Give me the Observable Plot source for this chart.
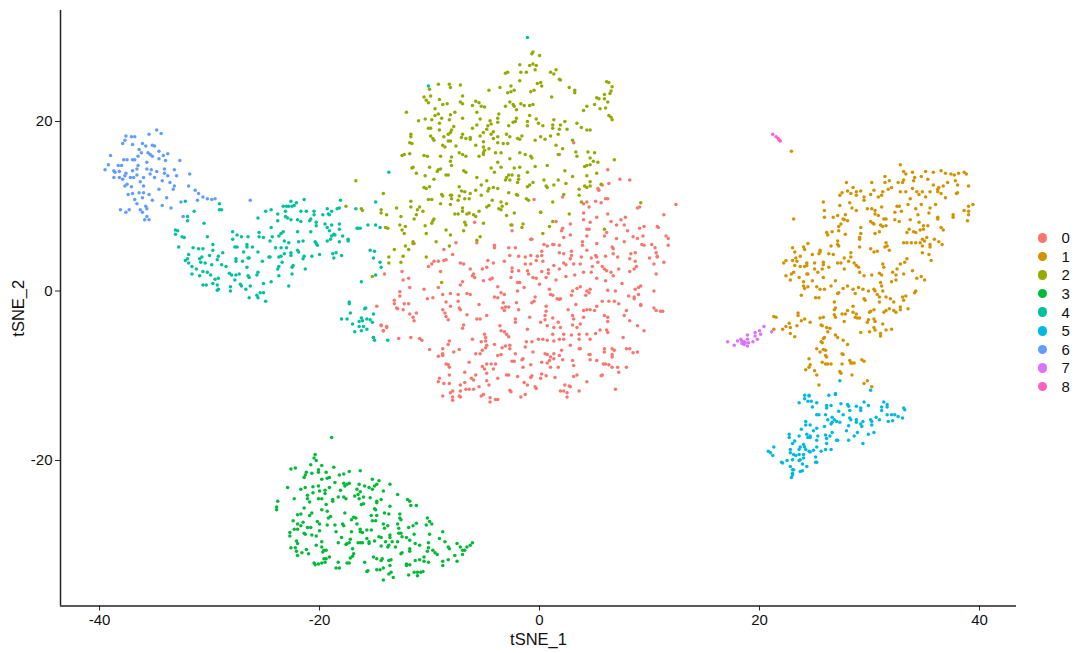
<!DOCTYPE html>
<html>
<head>
<meta charset="utf-8">
<script src="https://cdn.jsdelivr.net/npm/d3@7"></script>
<script src="https://cdn.jsdelivr.net/npm/@observablehq/plot@0.6"></script>
<style>
html,body{margin:0;padding:0;background:#fff;}
#wrap{position:relative;width:1080px;height:653px;overflow:hidden;font-family:"Liberation Sans",sans-serif;}
#legend{position:absolute;left:1036px;top:228.5px;}
.row{display:flex;align-items:center;height:18.6px;font-size:15px;color:#111;}
.sw{width:9.5px;height:9.5px;border-radius:50%;margin-right:14.5px;margin-left:1.5px;}
</style>
</head>
<body>
<div id="wrap"><div id="chart"></div><div id="legend"></div></div>
<script>
const clusterNames = ["0","1","2","3","4","5","6","7","8"];
const clusterColors = ["#F8766D","#D39200","#93AA00","#00BA38","#00C19F","#00B9E3","#619CFF","#DB72FB","#FF61C3"];
const xTicks = [-40,-20,0,20,40];
const yTicks = [-20,0,20];

const cluster0 = [[3.1,17.5],[1.8,16.1],[6.2,14.3],[7.3,13.2],[8.2,13.1],[6.3,12.7],[5.7,12.5],[5.3,12.1],[5.4,11.9],[12.4,10.2],[-0.5,10.8],[2.1,11.1],[4.0,10.3],[4.5,9.9],[5.1,10.6],[5.6,10.4],[6.0,10.9],[6.2,10.9],[4.3,10.5],[8.9,9.8],[9.1,9.9],[11.3,9.0],[0.1,9.3],[1.5,8.2],[-5.9,8.1],[6.2,9.1],[7.8,8.7],[4.0,9.2],[4.0,8.4],[5.2,8.7],[4.6,8.1],[6.5,8.2],[7.0,7.8],[7.4,8.4],[7.7,7.8],[9.5,7.6],[9.1,7.4],[10.7,7.6],[10.8,7.5],[2.8,7.9],[2.1,7.4],[2.0,7.1],[4.3,7.3],[4.5,7.3],[-2.5,7.1],[8.0,7.1],[-2.5,7.8],[11.5,6.5],[11.7,6.2],[8.5,6.4],[9.4,6.5],[-0.8,6.1],[-0.7,6.1],[2.2,6.3],[2.8,6.6],[4.3,6.5],[6.1,6.9],[5.9,6.5],[7.0,6.2],[8.9,6.2],[3.9,5.8],[3.9,5.4],[5.2,5.6],[7.7,5.8],[9.3,5.5],[9.5,5.4],[11.7,5.4],[10.2,5.5],[10.5,5.1],[10.6,4.5],[10.7,4.1],[0.4,5.5],[0.7,5.3],[1.2,5.5],[1.3,5.5],[1.8,5.4],[-4.1,5.4],[-4.1,5.1],[-2.8,5.1],[-2.2,5.1],[6.6,5.2],[6.7,5.0],[4.3,4.8],[8.3,4.4],[8.7,4.5],[6.7,4.4],[7.1,4.0],[-7.6,5.7],[-5.7,5.7],[-11.4,5.6],[-8.7,4.9],[-7.9,4.3],[-2.7,4.2],[-1.9,4.1],[-1.3,4.0],[-0.8,4.2],[-0.2,4.1],[0.2,4.2],[0.2,4.7],[1.8,4.5],[2.2,4.4],[2.9,4.7],[2.9,4.2],[2.8,3.8],[3.8,4.0],[4.7,3.9],[5.1,4.2],[5.2,4.0],[6.0,4.1],[10.0,3.9],[10.7,4.0],[-3.2,3.5],[-7.2,3.3],[-6.9,3.2],[-9.6,3.5],[-9.8,3.2],[-10.1,2.9],[-9.2,3.5],[-8.7,3.6],[-8.5,3.7],[-4.7,3.6],[-4.2,3.3],[-5.2,2.6],[-6.3,2.6],[-4.8,2.8],[-0.8,3.2],[-0.3,3.6],[0.3,3.5],[-1.3,3.2],[1.3,3.0],[2.2,3.3],[2.4,3.1],[1.8,2.6],[3.1,3.2],[3.7,3.2],[5.3,3.4],[4.8,2.9],[5.7,2.9],[8.2,3.8],[8.7,3.5],[11.3,3.4],[10.4,3.2],[8.8,2.9],[8.6,2.6],[-2.5,2.7],[-2.5,2.3],[-1.9,2.4],[-1.1,2.4],[-1.0,2.0],[0.2,2.3],[0.8,2.5],[0.8,2.1],[2.4,1.7],[3.2,1.9],[4.0,2.2],[4.7,2.2],[5.9,2.6],[6.1,2.4],[6.5,2.2],[8.2,2.3],[7.2,2.6],[-9.0,2.3],[-12.5,2.3],[-14.1,2.0],[-6.0,2.0],[-6.1,1.8],[-5.9,1.6],[-2.6,1.6],[-1.8,1.0],[-0.6,1.6],[-0.3,1.5],[0.6,1.6],[1.5,1.3],[5.2,1.5],[6.0,1.2],[6.7,1.8],[10.6,2.0],[-11.9,1.5],[-12.4,1.3],[-5.1,1.2],[-4.5,1.4],[-4.3,1.5],[-7.0,1.1],[-7.2,0.7],[-11.8,0.4],[-2.0,1.0],[0.0,0.8],[3.4,0.3],[3.7,0.5],[9.2,0.6],[9.0,0.4],[8.7,0.2],[7.5,0.9],[4.3,0.0],[4.6,0.2],[4.5,-0.2],[6.2,0.1],[6.9,0.0],[10.4,0.0],[-10.5,0.2],[-9.2,0.4],[-3.8,0.5],[-2.0,0.0],[-1.4,0.4],[0.9,0.2],[3.0,0.0],[4.2,-0.5],[-8.8,-0.4],[-8.1,-0.3],[-7.4,-0.4],[-6.6,-0.3],[-6.3,-0.4],[-3.5,-0.2],[-3.2,-0.4],[1.0,-0.4],[1.2,-0.5],[2.9,-0.5],[9.0,-0.4],[8.1,-0.6],[8.6,-0.7],[8.6,-0.9],[-12.7,-0.1],[-12.7,-0.6],[-10.2,-0.9],[-9.7,-0.8],[-7.4,-1.2],[-4.1,-0.7],[-3.8,-0.8],[-0.4,-0.7],[1.6,-0.9],[1.8,-1.0],[1.9,-0.9],[-13.2,-1.1],[-13.2,-1.5],[-12.3,-1.5],[-11.9,-1.5],[-8.5,-1.3],[-5.5,-1.6],[-3.3,-1.4],[-2.1,-1.4],[-0.5,-1.2],[-0.7,-1.4],[3.3,-1.6],[5.7,-1.2],[6.3,-1.2],[6.8,-1.2],[7.2,-1.5],[9.2,-1.7],[9.2,-1.6],[-13.0,-2.0],[-12.9,-2.1],[-12.4,-2.2],[-8.1,-1.8],[-7.3,-2.0],[-7.2,-2.2],[-3.4,-2.0],[-3.1,-1.9],[-2.8,-1.9],[-3.2,-2.3],[-1.9,-2.2],[0.6,-1.8],[2.6,-2.2],[4.0,-2.3],[4.3,-2.2],[4.6,-2.2],[5.2,-1.8],[5.0,-2.3],[7.9,-2.3],[10.4,-2.0],[10.6,-2.3],[11.0,-2.4],[11.2,-2.4],[-11.2,-2.6],[-11.8,-2.7],[-8.8,-2.2],[-8.6,-2.6],[-8.5,-3.0],[-8.3,-3.4],[-6.6,-2.8],[-4.8,-2.9],[-5.7,-3.3],[-5.4,-3.3],[-0.9,-3.1],[0.6,-2.4],[0.5,-2.9],[1.2,-3.2],[3.0,-2.9],[3.1,-3.3],[4.0,-3.1],[5.9,-2.9],[6.2,-3.1],[6.2,-3.6],[7.7,-2.9],[-11.5,-3.1],[-11.4,-3.5],[-2.2,-3.3],[-2.2,-3.7],[8.2,-3.5],[0.1,-3.7],[0.5,-3.4],[1.7,-3.7],[3.7,-3.9],[3.0,-4.0],[-14.4,-4.0],[-13.9,-4.2],[-14.2,-4.7],[-6.9,-4.0],[-7.0,-4.4],[-3.6,-4.1],[-1.1,-4.5],[0.7,-4.1],[1.3,-4.3],[1.9,-4.3],[3.4,-4.3],[5.5,-4.6],[6.1,-4.6],[8.9,-4.1],[9.5,-4.7],[-3.5,-4.7],[-3.2,-4.8],[-3.0,-5.1],[-2.8,-5.4],[-5.0,-5.1],[-4.9,-5.5],[-4.9,-5.9],[2.2,-5.1],[2.9,-5.2],[1.2,-5.1],[3.6,-5.1],[4.3,-5.1],[5.1,-5.0],[6.2,-4.9],[-12.8,-5.6],[-11.7,-5.5],[-10.9,-5.6],[-10.7,-5.8],[-8.2,-5.9],[-8.3,-6.3],[-6.1,-5.7],[-5.3,-6.0],[-1.2,-6.0],[-0.7,-6.0],[-0.1,-5.7],[0.3,-5.7],[0.7,-5.8],[1.3,-5.9],[1.8,-5.7],[2.2,-5.7],[3.6,-5.7],[4.6,-5.7],[7.6,-5.5],[-4.8,-6.4],[-4.9,-6.7],[-5.2,-7.0],[-5.4,-7.4],[-4.1,-6.3],[-3.1,-6.5],[-3.4,-6.7],[-2.7,-6.4],[-2.7,-6.8],[-1.3,-6.6],[2.0,-7.0],[2.8,-6.4],[3.6,-6.8],[3.7,-6.8],[5.9,-6.8],[5.9,-7.2],[6.6,-6.8],[6.8,-7.0],[7.9,-6.8],[8.2,-6.8],[8.5,-7.3],[8.9,-7.2],[-10.0,-6.9],[-8.8,-6.8],[-8.8,-7.4],[-7.3,-6.9],[-7.8,-7.2],[-9.2,-7.7],[-8.8,-7.6],[-5.8,-7.4],[-3.8,-7.6],[-3.5,-7.5],[-2.2,-7.4],[-0.6,-7.2],[0.5,-7.4],[0.7,-7.5],[1.3,-7.4],[1.0,-7.8],[0.9,-8.2],[1.8,-7.6],[4.5,-7.5],[4.6,-7.5],[6.6,-7.5],[6.6,-7.8],[4.6,-8.1],[5.2,-8.2],[3.0,-8.2],[2.1,-8.1],[-1.5,-8.0],[-1.6,-8.1],[-2.3,-8.3],[-2.5,-8.3],[0.2,-8.4],[0.7,-8.5],[1.3,-8.0],[-8.5,-8.6],[-8.3,-8.7],[-8.2,-9.0],[-6.4,-8.4],[-5.2,-8.9],[-4.8,-8.6],[-4.4,-8.6],[-4.0,-8.6],[-4.2,-9.2],[-5.0,-9.2],[3.1,-8.8],[5.8,-8.6],[6.0,-8.6],[6.3,-8.7],[6.6,-9.0],[7.1,-9.0],[7.9,-9.0],[-1.5,-9.0],[-0.8,-8.7],[1.0,-9.0],[1.7,-9.0],[-6.8,-9.6],[-8.2,-9.9],[-4.8,-9.7],[-3.8,-10.3],[-5.8,-9.9],[7.2,-9.6],[5.7,-9.9],[5.6,-10.0],[-3.0,-9.9],[-2.8,-9.9],[-2.0,-10.1],[-0.7,-10.0],[0.2,-9.8],[0.6,-10.0],[1.4,-10.2],[3.4,-9.9],[3.1,-10.1],[-9.1,-10.3],[-9.2,-10.7],[-8.7,-10.9],[-8.2,-10.9],[-6.8,-10.8],[-7.2,-11.1],[-6.2,-10.3],[-6.0,-10.5],[-4.8,-10.6],[-4.6,-11.1],[-0.8,-10.2],[-1.4,-10.8],[-1.1,-11.1],[0.1,-10.3],[4.3,-10.7],[-8.1,-12.0],[-7.9,-11.8],[-7.2,-11.8],[-6.7,-11.6],[-6.4,-11.6],[-6.0,-11.6],[-5.5,-11.3],[-0.4,-11.3],[-0.3,-11.5],[2.3,-11.1],[2.7,-11.2],[2.8,-11.3],[6.9,-11.6],[-8.8,-12.4],[-7.9,-12.5],[-7.9,-12.9],[-7.3,-12.4],[-7.2,-12.5],[-5.1,-12.2],[-5.3,-12.4],[-4.5,-12.6],[-4.0,-12.8],[-3.8,-12.8],[-4.5,-13.1],[-1.7,-12.5],[-1.3,-12.2],[-2.7,-11.7],[-2.6,-11.9],[1.9,-11.8],[2.2,-11.8],[2.5,-12.0],[2.5,-12.5],[3.6,-11.8],[-14.8,-1.8],[-14.4,-4.1],[-13.9,-4.3],[-14.2,-4.7],[-15.1,-5.5]];

const cluster1 = [[22.9,16.5],[23.1,8.5],[32.8,14.9],[33.1,14.1],[33.3,13.8],[33.9,14.0],[35.1,14.1],[35.8,14.0],[36.5,14.2],[36.9,13.9],[37.4,13.8],[37.7,13.7],[38.1,13.9],[38.6,14.0],[38.8,13.8],[34.1,13.4],[34.0,13.0],[34.7,13.5],[35.3,13.2],[33.1,13.1],[33.0,12.8],[32.6,12.8],[31.4,13.5],[31.8,13.0],[31.4,12.8],[30.2,12.8],[27.9,12.8],[35.8,12.5],[36.3,12.2],[36.7,12.4],[37.1,12.8],[37.8,13.0],[38.0,12.5],[39.0,12.4],[33.9,12.1],[32.0,12.2],[31.7,12.0],[28.5,12.2],[28.0,11.8],[27.5,11.6],[27.3,11.3],[28.3,11.5],[28.8,11.7],[28.8,11.3],[29.2,11.8],[30.4,11.9],[30.1,11.4],[29.5,11.1],[29.5,10.7],[31.2,11.7],[31.1,11.3],[30.8,11.1],[32.8,11.7],[33.3,11.7],[34.3,11.7],[34.5,11.4],[34.8,11.7],[33.7,10.9],[35.1,11.1],[35.5,11.7],[36.2,11.7],[36.2,12.0],[36.5,11.5],[36.9,11.0],[37.9,11.5],[38.0,11.6],[25.8,10.5],[25.9,9.5],[27.3,10.1],[28.2,10.4],[28.4,9.8],[28.8,9.5],[29.8,9.7],[30.2,9.7],[30.5,9.5],[30.5,9.1],[31.1,9.9],[32.5,10.0],[32.7,10.0],[32.9,9.4],[33.5,10.2],[34.2,9.7],[34.7,10.2],[35.5,9.8],[35.4,9.2],[36.0,10.2],[39.0,10.0],[39.4,10.2],[38.6,9.5],[39.0,9.4],[39.0,9.0],[37.6,9.0],[37.6,8.7],[38.9,8.3],[25.9,8.7],[26.7,8.7],[27.1,8.9],[27.8,9.0],[27.6,8.5],[27.7,8.4],[28.0,8.3],[30.8,8.9],[31.3,8.5],[31.5,8.5],[32.3,9.3],[32.3,8.4],[32.7,8.2],[33.7,8.4],[34.4,9.0],[36.2,8.7],[36.2,8.5],[27.4,7.9],[27.2,7.6],[26.1,6.9],[26.2,6.6],[26.6,7.0],[27.2,7.1],[27.8,6.7],[29.2,7.5],[29.2,6.8],[29.1,6.3],[29.1,6.1],[30.1,8.2],[30.3,8.0],[30.4,7.9],[31.0,7.8],[31.2,7.6],[31.5,7.7],[30.5,6.8],[30.9,7.0],[33.4,6.9],[33.6,7.3],[34.0,7.0],[34.2,6.9],[34.6,7.2],[34.9,7.3],[35.3,7.7],[34.5,8.1],[34.9,7.7],[36.5,7.5],[36.7,7.2],[26.5,5.3],[27.1,5.9],[27.1,5.5],[27.2,5.3],[24.4,5.6],[24.0,5.2],[24.1,4.9],[23.0,5.1],[23.2,4.6],[23.7,4.1],[23.3,3.9],[25.5,4.8],[25.5,4.6],[25.4,4.4],[24.8,4.3],[33.1,5.7],[33.4,5.7],[33.8,5.7],[34.2,5.7],[34.6,5.7],[34.8,6.1],[35.2,6.3],[34.8,5.3],[35.0,5.9],[35.5,5.5],[35.5,5.2],[35.9,6.1],[36.3,5.8],[36.6,5.5],[34.8,4.5],[35.4,4.3],[35.6,3.6],[29.1,5.2],[30.1,5.0],[30.4,4.6],[30.7,4.7],[31.5,5.7],[31.6,5.3],[31.4,5.2],[31.8,4.8],[26.3,4.4],[26.7,4.3],[27.7,3.9],[28.3,4.5],[28.3,4.0],[22.2,3.3],[22.4,3.6],[23.0,3.6],[23.4,3.5],[23.2,3.0],[23.7,2.9],[24.3,3.3],[24.3,3.0],[24.1,2.9],[25.0,3.3],[25.8,3.4],[25.8,3.1],[25.0,2.6],[25.7,2.6],[26.3,2.8],[27.1,3.3],[27.4,3.3],[28.1,3.5],[28.6,3.3],[28.8,3.0],[29.0,2.8],[27.7,2.6],[31.2,3.2],[31.3,2.8],[32.8,3.2],[33.2,3.4],[33.4,3.8],[22.4,1.8],[22.9,2.0],[23.1,2.2],[22.8,1.3],[23.6,1.6],[24.3,2.0],[24.4,2.0],[25.3,2.2],[25.8,1.6],[24.0,1.1],[24.8,1.2],[26.5,0.6],[26.9,1.2],[24.0,0.6],[24.1,0.3],[24.4,0.5],[25.2,0.5],[25.5,0.2],[25.9,0.2],[29.1,2.2],[29.5,1.8],[30.2,1.9],[30.9,2.1],[31.1,1.9],[31.0,1.0],[32.5,2.6],[32.1,2.2],[32.4,1.9],[32.4,1.3],[32.0,1.1],[33.1,2.0],[33.9,2.4],[34.3,1.5],[34.7,1.7],[35.0,1.3],[23.8,-0.5],[25.1,-0.8],[25.4,-0.8],[27.1,-0.3],[27.2,-0.2],[27.6,0.3],[28.0,0.6],[28.5,0.2],[28.7,-0.3],[29.0,0.4],[29.4,0.2],[29.5,-0.9],[29.6,-1.1],[29.9,0.0],[30.4,0.2],[30.5,0.0],[30.7,-0.4],[31.1,0.6],[31.2,0.0],[30.9,-0.7],[30.9,-1.3],[31.5,-0.7],[31.9,-0.9],[32.2,-1.3],[33.0,-0.7],[33.3,-0.6],[33.1,-1.1],[34.2,0.0],[34.1,-0.2],[26.8,-1.3],[26.9,-2.0],[26.8,-2.2],[28.0,-2.3],[28.5,-1.8],[28.5,-2.5],[28.8,-2.7],[32.8,-1.9],[32.8,-2.2],[33.5,-2.1],[31.8,-2.1],[31.5,-2.3],[31.3,-2.5],[32.2,-2.3],[32.4,-2.5],[30.4,-2.2],[30.1,-2.4],[30.0,-2.5],[23.5,-2.6],[23.5,-2.9],[21.3,-3.0],[21.5,-3.1],[23.8,-3.5],[24.1,-3.3],[24.6,-3.7],[23.4,-4.1],[22.7,-3.8],[22.8,-4.3],[22.1,-4.5],[22.4,-4.2],[21.3,-4.5],[25.5,-3.2],[25.8,-3.1],[25.6,-4.0],[25.7,-4.1],[26.8,-2.8],[26.9,-3.1],[27.7,-3.6],[27.5,-2.7],[27.8,-2.7],[28.7,-3.1],[28.9,-3.2],[29.1,-3.2],[29.9,-3.4],[29.8,-3.7],[30.4,-3.3],[30.5,-3.6],[31.2,-3.9],[31.5,-4.6],[32.0,-4.5],[30.4,-4.3],[30.5,-4.6],[30.0,-4.8],[29.2,-4.9],[31.0,-5.0],[31.0,-5.3],[22.8,-5.0],[23.2,-5.4],[26.1,-4.3],[26.4,-4.4],[26.2,-4.8],[26.9,-5.2],[27.1,-5.5],[25.9,-5.5],[25.8,-5.6],[25.6,-6.0],[25.7,-6.1],[27.6,-5.8],[28.0,-6.3],[25.2,-6.8],[25.5,-7.2],[25.8,-6.9],[26.0,-7.0],[26.0,-7.6],[26.1,-7.8],[27.5,-7.4],[27.6,-7.5],[24.5,-8.0],[28.2,-8.2],[28.3,-8.5],[28.4,-8.5],[28.6,-8.5],[29.3,-8.1],[29.5,-8.3],[27.5,-8.6],[25.7,-8.4],[26.0,-8.6],[26.2,-8.6],[26.5,-8.6],[24.6,-8.7],[24.5,-9.0],[24.2,-9.3],[25.0,-9.4],[25.2,-9.9],[27.3,-9.5],[27.4,-9.7],[28.4,-9.9],[25.4,-11.1],[29.5,-10.9],[29.8,-10.6],[30.2,-11.3]];

const cluster2 = [[-0.6,28.2],[-0.7,28.0],[0.0,27.8],[-1.8,26.7],[-0.9,26.6],[-0.6,26.8],[-0.3,26.6],[-0.4,26.1],[-3.1,25.7],[-2.9,25.8],[-1.7,25.8],[-1.2,25.8],[1.0,25.8],[1.3,25.6],[1.5,26.1],[1.8,25.0],[1.9,24.9],[0.1,24.6],[0.2,24.2],[-0.2,24.5],[-1.8,24.8],[-3.6,24.0],[-4.6,23.7],[-2.6,24.2],[-2.9,23.4],[-2.6,23.5],[-2.3,23.7],[-0.5,23.7],[-0.8,23.5],[1.1,22.9],[2.7,24.0],[3.2,23.7],[3.2,23.4],[6.1,24.7],[6.3,24.6],[6.6,24.1],[6.5,23.6],[6.4,23.3],[5.9,23.2],[5.2,22.8],[5.4,22.7],[5.9,22.7],[6.2,22.3],[5.0,22.0],[4.3,21.8],[4.0,21.3],[5.5,21.5],[6.0,21.6],[6.3,20.7],[6.5,20.5],[6.6,20.2],[-10.0,23.8],[-9.2,24.4],[-8.2,24.4],[-8.1,24.0],[-7.2,24.3],[-10.5,22.9],[-9.9,23.0],[-10.3,22.5],[-10.1,22.2],[-9.1,22.6],[-8.8,22.0],[-8.4,22.1],[-7.0,23.0],[-7.2,22.3],[-7.0,22.1],[-6.1,21.9],[-5.8,22.4],[-5.5,22.2],[-5.3,21.8],[-5.0,21.7],[-5.7,21.1],[-12.1,21.1],[-9.5,21.5],[-9.5,20.7],[-9.2,20.9],[-8.9,20.4],[-8.1,20.8],[-7.7,21.1],[-7.0,20.4],[-8.2,20.2],[-11.0,20.1],[-10.4,20.3],[-9.8,20.2],[-9.1,19.8],[-5.4,20.3],[-5.7,19.6],[-6.1,19.2],[-4.5,20.1],[-4.4,19.7],[-3.8,20.4],[-3.7,20.9],[-3.8,19.9],[-2.7,22.3],[-2.4,22.0],[-2.3,21.8],[-2.1,21.4],[-1.7,22.1],[-1.4,21.9],[-0.9,21.9],[-0.6,22.0],[-3.1,21.8],[-0.9,20.7],[-0.3,20.3],[-0.1,19.8],[0.3,19.5],[1.3,20.2],[1.2,19.6],[1.2,19.2],[-1.1,20.0],[-1.1,19.5],[-2.1,20.4],[-2.2,20.0],[-2.4,19.9],[-2.8,19.5],[2.3,20.0],[1.9,19.6],[1.8,19.1],[2.5,19.1],[3.4,19.8],[3.8,19.3],[4.3,19.0],[4.6,19.0],[-10.1,19.2],[-9.9,19.2],[-9.1,19.0],[-7.8,19.4],[-8.0,19.0],[-8.1,18.7],[-11.7,18.5],[-11.7,18.2],[-11.8,17.5],[-11.6,17.4],[-9.9,18.3],[-9.7,18.0],[-9.6,17.8],[-8.7,18.2],[-8.3,18.5],[-8.3,17.7],[-8.1,17.7],[-8.8,17.2],[-8.6,17.0],[-7.0,18.5],[-7.1,18.1],[-6.7,18.0],[-6.3,18.1],[-6.3,17.9],[-4.7,19.5],[-4.8,19.1],[-5.4,18.3],[-5.1,18.7],[-4.4,18.5],[-4.2,18.8],[-4.2,18.0],[-3.8,18.2],[-5.1,17.6],[-5.8,17.2],[-5.1,17.0],[-5.0,16.6],[-4.6,16.8],[-5.1,16.3],[-5.5,15.9],[-5.1,16.1],[-3.8,17.5],[-3.3,17.4],[-2.9,17.4],[-3.0,18.5],[-2.7,18.2],[-2.0,18.0],[-1.8,17.9],[-1.6,18.3],[-0.4,17.8],[0.1,18.2],[0.5,17.9],[1.0,18.3],[1.7,18.5],[1.5,17.2],[2.1,16.8],[3.0,17.8],[-12.5,16.0],[-12.3,16.1],[-11.8,16.2],[-10.5,16.0],[-10.2,15.9],[-9.0,15.9],[-7.6,17.1],[-7.3,16.3],[-7.0,16.1],[-6.7,15.9],[-8.0,15.8],[-8.1,15.3],[-8.0,14.8],[-4.0,16.3],[-3.5,16.3],[-3.8,15.2],[-2.7,15.6],[-1.8,16.3],[-1.3,16.1],[-0.8,15.9],[-0.7,15.7],[1.7,16.1],[3.3,16.4],[3.4,15.9],[4.4,16.4],[5.0,16.3],[4.6,15.7],[4.9,15.3],[6.8,15.5],[0.7,14.8],[-0.4,14.7],[-3.5,14.6],[-4.4,14.5],[-4.1,14.0],[-2.3,14.5],[-1.8,14.6],[-11.6,14.5],[-11.5,14.6],[-10.0,14.6],[-9.2,14.3],[-9.0,14.4],[-9.3,14.1],[-11.2,13.9],[-10.4,13.6],[-8.5,13.7],[-8.3,13.7],[-6.9,14.2],[-6.7,14.0],[-5.7,13.4],[-4.8,13.0],[-5.3,12.5],[-2.8,13.7],[-2.5,13.7],[-3.0,13.4],[-3.1,13.1],[-2.7,13.1],[-1.9,13.6],[-1.9,13.2],[-2.0,12.8],[-1.1,14.0],[-0.6,12.8],[-0.9,12.5],[-1.1,12.3],[0.4,13.1],[0.6,12.4],[0.7,12.2],[1.7,13.1],[1.3,12.5],[2.3,14.2],[2.4,12.7],[3.0,13.5],[4.3,13.6],[4.1,14.7],[4.3,14.8],[4.6,14.9],[5.3,15.2],[5.2,13.9],[4.1,12.4],[4.6,12.9],[4.3,12.2],[4.6,12.4],[5.6,12.6],[3.6,12.0],[3.6,11.3],[-10.5,12.2],[-10.3,12.1],[-10.0,12.3],[-9.6,13.2],[-7.3,12.3],[-7.1,11.8],[-6.8,11.7],[-8.1,11.3],[-5.8,11.9],[-5.3,11.3],[-4.7,11.8],[-4.6,12.1],[-4.2,12.2],[-3.8,12.1],[-2.8,11.6],[-2.1,11.4],[-2.0,11.3],[2.2,11.4],[-1.2,10.9],[-1.0,10.7],[1.2,10.5],[3.8,10.5],[-14.2,11.5],[-10.1,10.8],[-9.8,10.8],[-8.9,11.4],[-8.8,11.2],[-9.0,10.3],[-8.0,11.3],[-8.0,10.9],[-7.3,11.2],[-7.4,10.7],[-6.8,10.9],[-6.3,11.5],[-6.4,10.9],[-7.0,9.8],[-7.0,9.4],[-8.1,10.2],[-11.7,10.6],[-11.7,9.9],[-10.9,9.9],[-11.1,9.6],[-10.6,9.4],[-11.2,9.0],[-13.0,9.8],[-14.4,9.6],[-14.4,9.2],[-13.9,9.0],[-12.6,8.8],[-11.4,8.5],[-4.3,10.7],[-4.6,10.1],[-4.8,9.9],[-3.5,10.5],[-3.4,10.0],[-3.0,10.3],[-3.7,9.7],[-3.5,9.6],[-7.7,9.1],[-7.4,9.1],[-6.6,9.1],[-6.4,9.2],[-6.0,9.0],[-5.8,8.8],[-5.5,9.4],[-3.0,8.9],[-2.3,9.2],[0.1,9.3],[2.7,9.1],[-9.6,8.5],[-9.7,8.3],[-9.8,8.0],[-6.8,8.1],[-6.7,7.8],[-5.1,8.0],[-12.7,7.8],[-14.0,7.5],[-13.8,7.4],[-12.2,7.6],[-12.5,7.2],[-12.3,6.8],[-10.4,7.7],[-10.3,6.8],[-8.5,7.2],[-8.1,6.6],[-6.9,7.1],[-2.6,7.8],[-1.5,7.9],[-1.6,7.5],[1.2,8.2],[0.9,7.6],[0.3,6.8],[-5.4,6.4],[-5.7,6.0],[-11.5,5.8],[-11.5,5.6],[-9.4,5.8],[-12.2,5.3],[-8.2,5.3],[-13.2,4.9],[-11.9,4.9],[-13.7,4.0],[-13.7,3.3],[-12.6,3.4],[-12.4,4.1],[-10.3,4.0],[-8.9,1.0],[-15.2,1.7],[9.2,10.4],[5.9,7.3],[-16.7,13.0],[-17.6,10.0],[-16.2,9.7],[-16.1,9.5]];

const cluster3 = [[-18.9,-17.3],[-20.4,-19.3],[-20.5,-19.7],[-20.3,-20.0],[-22.6,-21.0],[-22.2,-20.9],[-20.8,-20.5],[-19.8,-20.6],[-18.7,-20.8],[-20.1,-21.1],[-20.1,-21.4],[-19.4,-21.4],[-16.3,-21.2],[-17.3,-21.3],[-17.8,-21.6],[-18.2,-21.7],[-21.2,-21.4],[-21.3,-21.7],[-21.4,-22.0],[-20.7,-21.5],[-19.8,-22.2],[-19.3,-22.1],[-19.1,-22.0],[-18.6,-22.6],[-15.2,-22.2],[-14.6,-22.4],[-14.8,-22.8],[-15.0,-23.0],[-13.6,-22.8],[-16.4,-22.8],[-15.9,-23.0],[-17.8,-22.7],[-17.5,-22.8],[-17.3,-22.7],[-17.7,-23.0],[-22.9,-23.2],[-21.7,-23.4],[-21.3,-23.2],[-20.6,-23.1],[-20.1,-23.0],[-19.1,-23.2],[-15.5,-23.2],[-15.2,-23.4],[-14.2,-23.6],[-16.6,-23.4],[-16.3,-23.7],[-16.5,-24.0],[-18.1,-23.5],[-20.0,-23.6],[-19.5,-23.5],[-19.5,-23.9],[-20.6,-23.8],[-21.1,-24.1],[-21.1,-24.5],[-22.3,-24.5],[-20.1,-24.5],[-19.8,-24.5],[-18.8,-24.6],[-18.8,-24.8],[-18.3,-24.3],[-17.8,-24.3],[-17.6,-24.5],[-16.8,-24.2],[-16.0,-24.3],[-16.4,-24.5],[-15.4,-24.4],[-12.9,-24.0],[-20.9,-24.9],[-23.8,-24.8],[-23.9,-25.5],[-23.9,-25.8],[-12.0,-24.6],[-11.8,-24.8],[-11.7,-25.3],[-11.2,-25.3],[-14.8,-24.8],[-14.8,-25.0],[-14.4,-24.6],[-16.2,-25.2],[-16.0,-25.1],[-13.6,-25.4],[-19.4,-25.2],[-21.4,-25.6],[-19.8,-25.8],[-19.3,-26.0],[-19.0,-26.6],[-19.2,-26.8],[-20.7,-26.2],[-20.9,-26.5],[-21.7,-26.3],[-22.0,-26.4],[-17.7,-26.2],[-15.0,-25.7],[-14.9,-25.8],[-14.1,-26.2],[-13.7,-26.3],[-12.7,-26.3],[-12.7,-26.8],[-12.6,-27.0],[-22.4,-27.1],[-22.0,-27.5],[-21.5,-27.3],[-21.7,-27.7],[-20.2,-27.2],[-20.0,-27.5],[-19.3,-27.6],[-17.1,-27.0],[-16.9,-26.7],[-16.7,-26.8],[-15.3,-26.5],[-14.8,-26.5],[-15.2,-27.1],[-14.9,-27.1],[-17.9,-27.5],[-17.8,-27.7],[-22.3,-28.1],[-22.0,-28.1],[-21.1,-27.9],[-20.8,-27.9],[-20.0,-28.3],[-18.6,-27.6],[-16.6,-27.5],[-14.2,-27.5],[-13.8,-27.7],[-12.9,-27.5],[-12.8,-28.0],[-11.2,-27.4],[-11.9,-27.9],[-11.5,-27.7],[-10.2,-26.8],[-10.0,-27.2],[-9.8,-27.5],[-10.3,-27.6],[-22.7,-28.5],[-22.7,-28.9],[-21.4,-28.6],[-21.3,-28.7],[-20.7,-28.8],[-20.3,-28.9],[-18.5,-28.4],[-16.3,-28.1],[-16.1,-28.5],[-16.3,-28.4],[-15.7,-28.2],[-15.3,-28.2],[-17.1,-28.4],[-18.0,-29.1],[-18.3,-29.7],[-14.1,-28.0],[-22.1,-29.5],[-22.0,-29.8],[-19.8,-29.6],[-20.3,-30.0],[-17.5,-29.8],[-17.3,-29.7],[-17.2,-29.3],[-16.5,-29.7],[-16.3,-29.7],[-15.7,-29.2],[-15.5,-29.6],[-15.0,-29.5],[-14.6,-29.0],[-14.4,-29.1],[-13.6,-28.8],[-13.6,-29.1],[-12.8,-28.6],[-12.6,-28.6],[-12.5,-29.0],[-12.1,-29.1],[-11.8,-29.4],[-11.4,-28.7],[-10.0,-28.7],[-10.1,-29.7],[-8.8,-28.4],[-9.1,-29.2],[-22.6,-30.3],[-22.2,-30.3],[-22.1,-30.7],[-22.0,-31.2],[-21.6,-30.9],[-21.2,-30.5],[-21.0,-31.0],[-19.8,-30.2],[-19.6,-30.6],[-19.4,-30.6],[-19.7,-30.8],[-17.6,-29.9],[-17.0,-30.4],[-16.1,-29.7],[-15.5,-29.8],[-14.4,-30.1],[-14.0,-29.6],[-13.8,-30.2],[-13.7,-30.0],[-13.4,-29.6],[-12.9,-29.6],[-13.1,-30.2],[-11.8,-30.4],[-11.3,-29.8],[-10.9,-30.0],[-10.1,-30.3],[-10.2,-30.7],[-9.7,-30.6],[-9.5,-30.9],[-9.3,-31.1],[-8.6,-29.6],[-8.3,-30.2],[-8.2,-30.4],[-7.5,-29.8],[-7.2,-30.2],[-7.0,-30.6],[-6.8,-30.6],[-6.6,-30.2],[-6.3,-30.0],[-6.1,-29.7],[-16.9,-31.0],[-17.0,-31.3],[-17.2,-31.5],[-12.6,-31.0],[-12.5,-30.9],[-11.8,-30.7],[-7.7,-31.2],[-7.0,-31.1],[-7.5,-31.9],[-8.3,-31.7],[-8.8,-31.9],[-8.8,-32.4],[-11.3,-31.8],[-10.9,-31.7],[-10.5,-31.9],[-10.5,-31.4],[-10.1,-32.0],[-15.1,-31.4],[-14.8,-31.6],[-14.3,-31.6],[-14.4,-31.8],[-15.9,-32.0],[-13.7,-31.8],[-13.5,-31.7],[-20.5,-32.1],[-20.4,-32.3],[-20.1,-32.2],[-19.8,-32.1],[-19.6,-31.6],[-19.4,-31.6],[-19.1,-31.4],[-19.5,-32.0],[-18.3,-32.0],[-17.5,-32.1],[-17.3,-32.1],[-18.5,-32.7],[-18.2,-32.7],[-12.1,-32.2],[-11.8,-32.3],[-12.1,-32.4],[-13.6,-32.4],[-14.2,-32.7],[-14.5,-32.9],[-14.8,-32.9],[-15.6,-33.0],[-15.7,-33.1],[-13.5,-33.2],[-13.7,-33.4],[-13.3,-33.8],[-14.2,-34.1],[-11.9,-33.5],[-11.4,-33.2],[-11.1,-33.2],[-11.1,-33.6],[-10.8,-33.2],[-10.6,-33.1]];

const cluster4 = [[-32.2,10.6],[-31.4,9.4],[-32.0,8.8],[-32.0,8.3],[-30.5,8.0],[-29.1,10.3],[-29.1,9.6],[-28.9,9.6],[-33.1,7.2],[-32.9,7.1],[-33.1,6.7],[-32.5,6.4],[-32.3,6.3],[-30.2,6.4],[-32.8,5.2],[-31.5,5.1],[-31.0,5.0],[-30.6,5.0],[-29.7,5.5],[-29.7,4.8],[-31.9,4.3],[-32.0,3.8],[-32.2,3.6],[-31.9,3.3],[-31.6,2.9],[-31.2,2.6],[-30.9,3.8],[-30.7,4.0],[-30.8,3.4],[-30.4,3.3],[-30.0,4.2],[-29.3,3.7],[-29.2,4.1],[-28.8,4.5],[-29.8,3.1],[-31.6,2.0],[-30.9,1.8],[-30.6,2.3],[-30.2,2.2],[-29.9,1.9],[-29.5,1.4],[-29.2,1.5],[-30.6,0.7],[-30.3,0.7],[-29.7,0.9],[-29.3,0.7],[-29.2,0.2],[-29.3,0.1],[-28.9,3.1],[-28.5,2.9],[-28.2,2.1],[-28.0,1.9],[-28.1,0.5],[-28.1,0.0],[-27.7,1.3],[-27.3,2.0],[-27.6,1.9],[-27.6,3.8],[-27.6,3.5],[-27.0,3.5],[-26.5,3.9],[-26.6,2.8],[-26.4,3.9],[-26.5,1.8],[-26.4,1.6],[-27.2,0.8],[-27.1,0.6],[-26.7,0.2],[-26.3,0.6],[-26.4,-0.8],[-25.7,-0.5],[-25.6,-0.8],[-25.4,-0.2],[-25.1,-0.2],[-24.9,-1.2],[-25.1,0.9],[-24.4,1.1],[-25.7,1.9],[-25.6,2.2],[-27.9,7.0],[-27.9,6.1],[-27.5,6.6],[-27.1,6.4],[-26.5,6.4],[-27.7,5.2],[-27.5,5.2],[-26.6,5.5],[-26.6,5.2],[-26.1,5.2],[-25.6,4.6],[-26.9,4.6],[-25.2,3.5],[-24.6,4.0],[-24.5,4.0],[-23.7,4.0],[-23.5,4.1],[-23.2,4.4],[-23.4,3.4],[-23.7,2.9],[-23.8,2.6],[-23.7,1.8],[-22.5,2.8],[-22.4,3.0],[-22.5,2.0],[-22.8,0.6],[-21.3,2.6],[-22.6,4.5],[-22.6,4.2],[-22.0,4.8],[-21.9,4.6],[-21.4,4.1],[-21.5,3.8],[-20.7,4.1],[-20.0,4.3],[-25.6,8.6],[-24.9,9.4],[-24.4,9.6],[-24.4,7.5],[-25.5,6.9],[-25.5,6.4],[-25.1,6.3],[-24.3,6.4],[-24.5,5.9],[-23.7,6.5],[-23.5,6.8],[-23.3,7.0],[-23.2,5.9],[-22.8,5.7],[-24.0,5.1],[-23.5,5.1],[-23.0,5.1],[-21.9,5.8],[-21.5,5.9],[-22.0,7.0],[-20.8,7.0],[-20.4,5.8],[-20.3,5.6],[-20.2,5.4],[-23.3,10.0],[-23.0,10.0],[-22.8,10.0],[-22.6,10.6],[-22.5,10.0],[-22.3,10.1],[-22.1,10.4],[-21.4,10.8],[-23.1,9.4],[-23.8,9.1],[-21.7,9.4],[-21.2,9.4],[-20.5,9.4],[-20.5,9.0],[-23.1,8.8],[-22.9,8.6],[-22.6,8.4],[-22.0,8.4],[-21.7,8.2],[-20.9,8.3],[-20.8,8.5],[-20.3,8.1],[-20.3,7.7],[-23.8,8.3],[-19.7,9.0],[-19.3,9.7],[-18.9,9.4],[-19.2,9.1],[-19.1,9.0],[-18.2,9.8],[-18.1,10.7],[-18.4,9.7],[-19.5,7.9],[-19.3,7.5],[-19.1,7.1],[-18.9,7.8],[-18.2,7.9],[-18.2,7.3],[-18.9,6.5],[-18.7,6.7],[-18.6,6.6],[-19.0,6.1],[-19.3,5.9],[-18.2,5.8],[-17.9,6.5],[-17.4,6.1],[-17.4,5.9],[-18.8,4.4],[-18.5,4.5],[-18.7,3.9],[-18.0,4.2],[-16.6,7.4],[-16.5,7.4],[-16.3,7.4],[-15.6,7.8],[-14.9,7.8],[-14.5,7.5],[-14.9,10.5],[-16.7,9.7],[-15.4,4.8],[-15.0,4.7],[-15.1,3.9],[-14.5,3.4],[-14.4,2.8],[-14.9,1.9],[-16.2,1.1],[-13.7,14.0],[-17.3,-1.3],[-17.3,-1.5],[-15.9,-2.1],[-15.8,-2.0],[-17.2,-2.6],[-15.1,-2.7],[-18.0,-3.3],[-17.5,-3.3],[-17.0,-3.9],[-16.4,-3.6],[-16.2,-3.2],[-16.1,-3.5],[-15.7,-3.3],[-15.4,-3.4],[-15.2,-3.7],[-16.4,-4.2],[-16.0,-4.2],[-15.7,-4.5],[-16.8,-4.8],[-16.2,-4.7],[-15.1,-5.5],[-15.0,-5.8],[-13.8,-5.8],[-10.1,24.2],[-1.1,29.9]];

const cluster5 = [[24.1,-12.3],[24.5,-12.3],[24.1,-12.7],[24.5,-12.4],[23.6,-13.2],[24.4,-13.0],[24.7,-13.0],[25.2,-13.2],[24.8,-13.7],[26.3,-12.3],[26.9,-12.2],[26.9,-12.1],[26.1,-13.5],[26.5,-13.5],[26.1,-13.8],[27.4,-13.3],[28.0,-13.4],[28.1,-13.6],[28.2,-14.1],[27.2,-14.2],[27.6,-14.6],[28.8,-13.6],[29.2,-13.8],[29.2,-14.1],[29.5,-13.1],[29.9,-13.5],[31.1,-13.7],[31.1,-14.1],[31.3,-13.1],[31.6,-13.4],[31.6,-13.7],[33.1,-13.8],[33.2,-14.0],[25.2,-14.6],[25.4,-14.6],[26.0,-14.6],[26.6,-14.9],[26.2,-15.2],[26.6,-15.5],[26.5,-15.7],[26.8,-15.2],[27.0,-15.4],[27.3,-15.5],[28.2,-15.0],[28.3,-15.2],[28.8,-15.2],[28.8,-15.5],[29.4,-15.4],[29.2,-15.7],[29.3,-16.0],[30.1,-15.2],[30.2,-15.4],[30.6,-14.9],[30.9,-15.2],[30.2,-15.8],[31.6,-14.6],[32.0,-14.6],[32.3,-14.6],[32.6,-14.8],[33.0,-15.0],[31.7,-15.4],[32.1,-15.3],[24.2,-15.4],[24.2,-15.8],[24.6,-15.8],[23.8,-16.3],[25.2,-16.2],[24.9,-16.5],[22.7,-16.9],[22.7,-17.3],[23.6,-17.1],[24.3,-16.9],[24.6,-17.1],[24.4,-17.3],[24.6,-17.3],[25.3,-17.1],[25.2,-17.6],[25.9,-16.0],[26.6,-16.7],[26.4,-17.1],[26.0,-17.0],[26.1,-17.4],[26.1,-18.0],[27.0,-17.6],[27.1,-17.6],[28.1,-17.6],[27.9,-16.5],[28.1,-15.9],[28.6,-17.1],[28.9,-16.7],[29.9,-16.9],[30.4,-16.7],[29.4,-18.0],[23.0,-18.0],[23.2,-17.7],[24.0,-18.1],[23.7,-18.4],[23.6,-18.7],[22.8,-18.7],[22.8,-19.1],[21.3,-18.4],[20.8,-18.9],[21.0,-19.1],[21.2,-19.4],[24.1,-18.4],[24.2,-18.7],[24.5,-18.9],[24.6,-19.0],[24.9,-18.8],[25.2,-18.4],[25.6,-18.9],[26.0,-18.7],[26.5,-18.7],[23.1,-19.3],[23.3,-19.4],[23.6,-19.3],[24.0,-19.3],[24.0,-19.7],[23.6,-20.0],[23.7,-19.9],[23.0,-19.9],[22.5,-20.0],[22.0,-20.2],[22.1,-20.3],[25.1,-19.6],[25.1,-20.2],[25.2,-20.2],[23.9,-20.4],[24.3,-20.7],[22.8,-20.7],[23.0,-21.1],[23.1,-21.1],[23.0,-21.5],[22.9,-22.0],[23.0,-21.7],[23.7,-21.3],[23.9,-21.2],[27.3,-10.6],[30.1,-11.7]];

const cluster6 = [[-34.8,19.0],[-34.4,18.6],[-35.5,18.5],[-37.6,18.3],[-37.1,18.2],[-36.8,18.2],[-37.9,17.4],[-37.7,17.8],[-37.0,17.3],[-36.1,17.4],[-35.8,17.1],[-35.2,17.2],[-35.0,17.1],[-34.6,16.5],[-33.8,16.2],[-34.2,16.0],[-36.4,16.7],[-36.2,16.3],[-35.6,16.3],[-35.4,16.1],[-36.5,15.9],[-35.2,15.9],[-34.6,15.6],[-34.0,15.4],[-32.7,15.4],[-39.0,16.0],[-37.8,15.5],[-37.5,15.5],[-37.0,15.5],[-36.8,15.5],[-35.7,15.2],[-39.2,14.9],[-38.3,14.8],[-38.0,14.8],[-36.5,14.8],[-36.6,14.4],[-39.5,14.3],[-38.7,14.2],[-38.2,14.1],[-38.6,14.0],[-37.0,14.2],[-35.7,14.4],[-35.3,14.3],[-34.8,14.1],[-34.1,14.4],[-33.2,14.3],[-31.8,13.8],[-35.4,13.8],[-34.1,13.9],[-33.8,13.6],[-33.0,13.6],[-37.6,13.9],[-37.7,13.6],[-37.9,13.2],[-37.2,13.4],[-36.9,13.4],[-36.6,13.7],[-38.7,13.4],[-38.2,13.4],[-36.0,13.4],[-35.0,13.4],[-34.3,13.0],[-33.6,12.8],[-36.3,12.9],[-33.2,12.4],[-33.3,12.0],[-37.5,12.6],[-37.7,12.4],[-37.1,12.3],[-36.0,12.4],[-34.6,12.0],[-31.9,12.4],[-31.3,11.9],[-31.0,11.5],[-30.6,11.1],[-31.1,10.7],[-30.2,10.9],[-29.8,10.8],[-29.5,10.9],[-32.6,10.5],[-33.9,11.0],[-37.4,11.4],[-37.0,11.5],[-36.4,11.6],[-36.0,11.6],[-35.5,11.4],[-36.8,10.8],[-35.2,10.7],[-36.1,11.0],[-36.6,10.3],[-35.8,10.0],[-34.3,10.1],[-33.5,9.8],[-38.1,9.6],[-37.6,9.3],[-37.3,9.6],[-36.3,9.6],[-36.1,9.3],[-35.7,9.7],[-35.7,8.8],[-35.5,8.4],[-35.9,8.4],[-26.3,10.7],[-32.4,8.8]];

const cluster7 = [[20.4,-4.2],[20.0,-4.7],[20.1,-5.1],[19.6,-4.9],[19.6,-5.3],[19.8,-5.7],[18.9,-5.2],[18.9,-5.7],[18.3,-5.7],[18.0,-5.9],[17.1,-6.0],[17.7,-6.4],[18.4,-5.9],[18.6,-6.0],[18.7,-6.1],[19.0,-6.1],[19.4,-6.0],[18.4,-6.2],[18.6,-6.3],[18.9,-6.5],[21.1,-4.8]];

const cluster8 = [[21.2,18.5],[21.5,18.2],[21.7,18.0],[21.8,17.8],[21.9,17.7]];

const clusters = [cluster0,cluster1,cluster2,cluster3,cluster4,cluster5,cluster6,cluster7,cluster8];
const cells = clusters.flatMap((pts,i)=>pts.map(([x,y])=>({x,y,cluster:clusterNames[i]})));

const axisColor = "#222";
const chart = Plot.plot({
  width:1016, height:653,
  marginLeft:60, marginRight:0, marginTop:10, marginBottom:47.5,
  style:{fontFamily:'"Liberation Sans",sans-serif',fontSize:"15px",color:"#111",background:"#fff",overflow:"visible"},
  x:{domain:[-43.55,43.36]},
  y:{domain:[-37.17,33.1]},
  color:{domain:clusterNames,range:clusterColors},
  marks:[
    Plot.ruleY([-37.17],{stroke:axisColor,strokeWidth:1.5}),
    Plot.ruleX([-43.55],{stroke:axisColor,strokeWidth:1.5}),
    Plot.axisX(xTicks,{tickSize:5,tickPadding:3,stroke:axisColor,tickFormat:d=>String(d),fontSize:15,fill:"#111",label:null}),
    Plot.axisY(yTicks,{tickSize:5,tickPadding:3,stroke:axisColor,tickFormat:d=>String(d),fontSize:15,fill:"#111",label:null}),
    Plot.axisX([],{label:"tSNE_1",labelAnchor:"center",labelOffset:39,labelArrow:"none",fontSize:16.5,fill:"#111"}),
    Plot.axisY([],{label:"tSNE_2",labelAnchor:"center",labelOffset:48,labelArrow:"none",fontSize:16.5,fill:"#111"}),
    Plot.dot(cells,{x:"x",y:"y",fill:"cluster",r:1.75,stroke:"none"})
  ]
});
document.getElementById("chart").appendChild(chart);

const legend = document.getElementById("legend");
clusterNames.forEach((n,i)=>{
  const row=document.createElement("div");row.className="row";
  const sw=document.createElement("div");sw.className="sw";sw.style.background=clusterColors[i];
  const t=document.createElement("span");t.textContent=n;
  row.append(sw,t);legend.appendChild(row);
});
</script>
</body>
</html>
